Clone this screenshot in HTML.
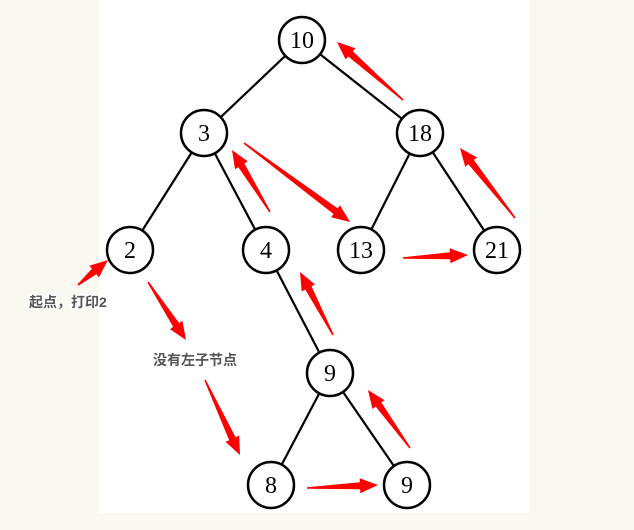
<!DOCTYPE html>
<html><head><meta charset="utf-8"><style>
html,body{margin:0;padding:0;background:#fbf8f1;}
svg{display:block}
.t{font-family:"Liberation Serif",serif;font-size:24px;text-anchor:middle}
.l{font-family:"Liberation Sans","Noto Sans CJK SC",sans-serif;font-size:14px;font-weight:bold;fill:#555;paint-order:stroke;stroke:#fff;stroke-width:3px}
</style></head><body>
<svg id="s" width="634" height="530" viewBox="0 0 634 530" xmlns="http://www.w3.org/2000/svg">
<rect x="99" y="0" width="431" height="513" fill="#fff"/>
<g stroke="#000" stroke-width="2.2">
<line x1="302" y1="40" x2="204" y2="133"/><line x1="302" y1="40" x2="420" y2="133"/>
<line x1="204" y1="133" x2="130" y2="250"/><line x1="204" y1="133" x2="266" y2="250"/>
<line x1="420" y1="133" x2="361" y2="250"/><line x1="420" y1="133" x2="497" y2="250"/>
<line x1="266" y1="250" x2="330" y2="373"/>
<line x1="330" y1="373" x2="271" y2="485"/><line x1="330" y1="373" x2="407" y2="485"/>
</g>
<g id="n" fill="#fff" stroke="#000" stroke-width="2.5"></g>
<g id="a" fill="#f00"></g>
<text class="l" x="29" y="307">起点，打印2</text>
<text class="l" x="153" y="365">没有左子节点</text>
</svg>
<script>
var nodes=[[302,40,"10"],[204,133,"3"],[420,133,"18"],[130,250,"2"],[266,250,"4"],[361,250,"13"],[497,250,"21"],[330,373,"9"],[271,485,"8"],[407,485,"9"]];
var s=document.getElementById('s'),ns="http://www.w3.org/2000/svg";
var g=document.getElementById('n');
nodes.forEach(function(n){var c=document.createElementNS(ns,'circle');c.setAttribute('cx',n[0]);c.setAttribute('cy',n[1]);c.setAttribute('r',23);g.appendChild(c);
var t=document.createElementNS(ns,'text');t.setAttribute('class','t');t.setAttribute('x',n[0]);t.setAttribute('y',n[1]+8);t.textContent=n[2];s.appendChild(t);});
var arrows=[[403,100,337,42],[515,218,460,148],[244,143,350,222],[270,212,232,150],[403,258,468,255],[333,335,300,272],[410,448,368,390],[307,488,378,485],[78,285,108,260],[148,282,186,340],[205,380,240,455]];
var a=document.getElementById('a');
arrows.forEach(function(r){var x1=r[0],y1=r[1],x2=r[2],y2=r[3];var dx=x2-x1,dy=y2-y1,L=Math.hypot(dx,dy);var ux=dx/L,uy=dy/L,px=-uy,py=ux;
var hl=18,bx=x2-ux*hl,by=y2-uy*hl;
var pts=[[x1-px*0.8,y1-py*0.8],[x1+px*0.8,y1+py*0.8],[bx+px*3.5,by+py*3.5],[bx+px*7.5,by+py*7.5],[x2,y2],[bx-px*7.5,by-py*7.5],[bx-px*3.5,by-py*3.5]];
var p=document.createElementNS(ns,'polygon');p.setAttribute('points',pts.map(function(q){return q[0].toFixed(1)+","+q[1].toFixed(1)}).join(" "));a.appendChild(p);});
</script>
</body></html>
